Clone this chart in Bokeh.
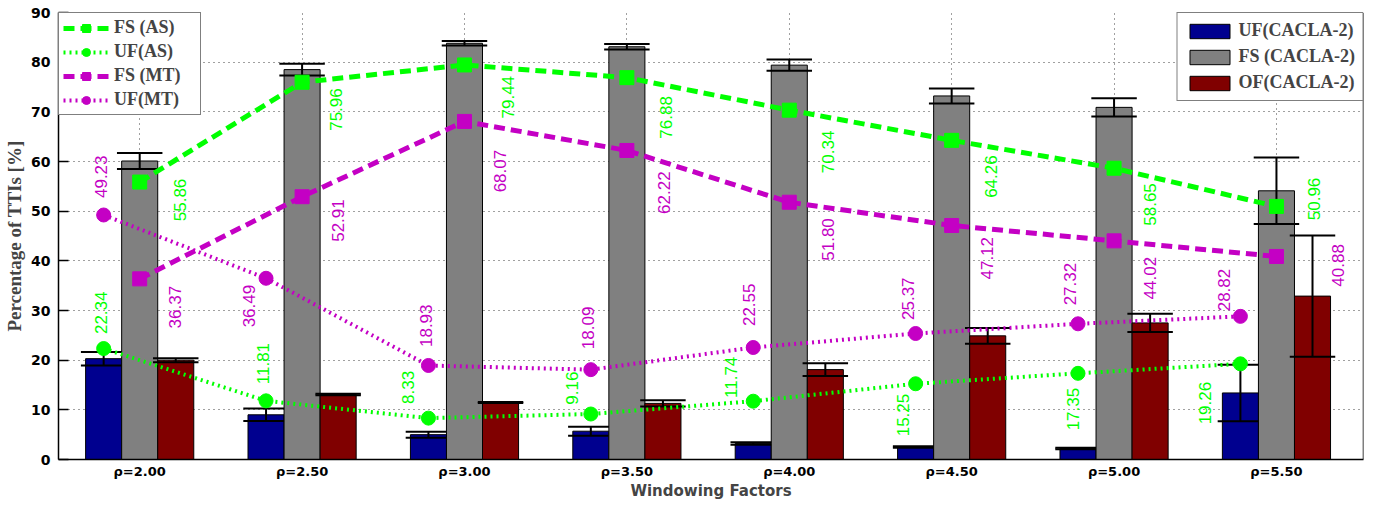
import numpy as np
from bokeh.plotting import figure
from bokeh.models import ColumnDataSource, FixedTicker, Legend, LegendItem, Span, Range1d
from bokeh.core.properties import value
from bokeh.embed import file_html
from bokeh.resources import INLINE

# ---------------- data ----------------
factors = ["ρ=2.00", "ρ=2.50", "ρ=3.00", "ρ=3.50", "ρ=4.00", "ρ=4.50", "ρ=5.00", "ρ=5.50"]

uf_cacla = [20.3, 9.0, 5.0, 5.7, 3.2, 2.5, 2.2, 13.4]
uf_cacla_err = [1.35, 1.25, 0.6, 0.9, 0.25, 0.15, 0.15, 5.7]
fs_cacla = [60.1, 78.5, 83.8, 83.1, 79.4, 73.2, 70.9, 54.1]
fs_cacla_err = [1.6, 1.2, 0.45, 0.55, 1.15, 1.5, 1.85, 6.7]
of_cacla = [20.0, 13.1, 11.5, 11.3, 18.1, 24.9, 27.5, 32.9]
of_cacla_err = [0.4, 0.15, 0.1, 0.65, 1.3, 1.6, 1.85, 12.2]

fs_as = [55.86, 75.96, 79.44, 76.88, 70.34, 64.26, 58.65, 50.96]
uf_as = [22.34, 11.81, 8.33, 9.16, 11.74, 15.25, 17.35, 19.26]
fs_mt = [36.37, 52.91, 68.07, 62.22, 51.80, 47.12, 44.02, 40.88]
uf_mt = [49.23, 36.49, 18.93, 18.09, 22.55, 25.37, 27.32, 28.82]

# value-label placement (offsets from group centre / value, data units)
uf_as_lbl_dx = [-0.24, -0.24, -0.35, -0.34, -0.36, -0.30, -0.25, -0.44]
uf_as_lbl_dy = [7.2, 7.5, 6.2, 5.2, 4.8, -6.3, -7.2, -7.9]
fs_as_lbl_dx = [0.25, 0.21, 0.27, 0.24, 0.24, 0.24, 0.22, 0.23]
fs_as_lbl_dy = [-3.6, -5.5, -6.5, -8.0, -8.4, -7.3, -7.3, 1.5]
fs_mt_lbl_dx = [0.22, 0.22, 0.22, 0.23, 0.24, 0.22, 0.22, 0.38]
fs_mt_lbl_dy = [-5.7, -4.8, -10.0, -8.5, -7.5, -6.6, -7.5, -1.8]
uf_mt_lbl_dx = [-0.24, -0.33, -0.24, -0.24, -0.25, -0.27, -0.27, -0.32]
uf_mt_lbl_dy = [7.7, -5.6, 8.0, 8.4, 8.6, 7.0, 8.0, 5.3]

# ---------------- styles ----------------
BLUE = "#00008f"
GRAY = "#808080"
RED = "#800000"
GREEN = "#00ff00"
MAGENTA = "#c400c4"
BW = 0.222   # bar width
CAP = 0.14   # half cap width

xc = np.arange(1, len(factors) + 1, dtype=float)

p = figure(width=1366, height=502,
           x_range=Range1d(0.5, 8.536), y_range=Range1d(0, 90),
           output_backend="svg", toolbar_location=None,
           min_border_left=58, min_border_right=3,
           min_border_top=12, min_border_bottom=39)
p.outline_line_color = None

# axes
p.xaxis.ticker = FixedTicker(ticks=list(xc))
p.xaxis.major_label_overrides = {float(i): f for i, f in zip(xc, factors)}
p.xaxis.major_label_overrides.update({int(i): f for i, f in zip(xc, factors)})
p.yaxis.ticker = FixedTicker(ticks=list(range(0, 91, 10)))
for ax in (p.xaxis[0], p.yaxis[0]):
    ax.axis_line_color = "black"
    ax.axis_line_width = 1.5
    ax.minor_tick_line_color = None
    ax.major_label_text_font = "DejaVu Sans"
    ax.major_label_text_font_style = "bold"
    ax.major_label_text_color = "black"
p.yaxis.major_tick_in = 10
p.yaxis.major_tick_out = 0
p.yaxis.major_tick_line_width = 1.5
p.xaxis.major_tick_in = 0
p.xaxis.major_tick_out = 0
p.yaxis.major_label_text_font_size = "14px"
p.xaxis.major_label_text_font_size = "13px"
p.yaxis.major_label_standoff = 8
p.xaxis.major_label_standoff = 4
p.xaxis.axis_label = "Windowing Factors"
p.xaxis.axis_label_text_font = "DejaVu Sans"
p.xaxis.axis_label_text_font_style = "bold"
p.xaxis.axis_label_text_font_size = "15px"
p.xaxis.axis_label_standoff = 0
p.yaxis.axis_label = "Percentage of TTIs [%]"
p.yaxis.axis_label_text_font = "Liberation Serif"
p.yaxis.axis_label_text_font_style = "bold"
p.yaxis.axis_label_text_font_size = "19px"
p.yaxis.axis_label_standoff = 3

p.grid.grid_line_color = "black"
p.grid.grid_line_alpha = 0.75
p.grid.grid_line_dash = "1 4"
p.grid.grid_line_width = 1

p.add_layout(Span(location=8.536, dimension="height", line_color="black", line_width=1.5))

# bars
bar_renderers = []
for off, vals, errs, col in ((-BW, uf_cacla, uf_cacla_err, BLUE),
                             (0.0, fs_cacla, fs_cacla_err, GRAY),
                             (BW, of_cacla, of_cacla_err, RED)):
    xs = xc + off
    v = np.array(vals)
    e = np.array(errs)
    src = ColumnDataSource(dict(x=xs, top=v))
    r = p.vbar(x="x", top="top", bottom=0, width=BW, source=src,
               fill_color=col, line_color="black", line_width=1)
    bar_renderers.append(r)
    p.segment(x0=xs, y0=v - e, x1=xs, y1=v + e, line_color="black", line_width=2)
    p.segment(x0=xs - CAP, y0=v + e, x1=xs + CAP, y1=v + e, line_color="black", line_width=2)
    p.segment(x0=xs - CAP, y0=v - e, x1=xs + CAP, y1=v - e, line_color="black", line_width=2)

# lines
line_items = []
specs = [
    ("FS (AS)", fs_as, 0.0, GREEN, "dashed", "square", fs_as_lbl_dx, fs_as_lbl_dy),
    ("UF(AS)", uf_as, -BW, GREEN, "dotted", "circle", uf_as_lbl_dx, uf_as_lbl_dy),
    ("FS (MT)", fs_mt, 0.0, MAGENTA, "dashed", "square", fs_mt_lbl_dx, fs_mt_lbl_dy),
    ("UF(MT)", uf_mt, -BW, MAGENTA, "dotted", "circle", uf_mt_lbl_dx, uf_mt_lbl_dy),
]
for name, vals, off, col, style, marker, ldx, ldy in specs:
    xs = xc + off
    src = ColumnDataSource(dict(x=xs, y=vals))
    if style == "dashed":
        lr = p.line("x", "y", source=src, line_color=col, line_width=5, line_dash="11 6")
    else:
        lr = p.line("x", "y", source=src, line_color=col, line_width=4, line_dash="2 4")
    sr = p.scatter("x", "y", source=src, marker=marker, size=14,
                   fill_color=col, line_color=col, line_width=1)
    line_items.append(LegendItem(label=name, renderers=[lr, sr]))

for name, vals, off, col, style, marker, ldx, ldy in specs:
    lsrc = ColumnDataSource(dict(
        x=xc + np.array(ldx),
        y=np.array(vals) + np.array(ldy),
        t=["%.2f" % v for v in vals]))
    p.text("x", "y", text="t", source=lsrc, angle=np.pi / 2,
           text_align="center", text_baseline="middle",
           text_font=value("Liberation Sans"), text_font_size="17px",
           text_color=col)

leg1 = Legend(items=line_items, location="top_left", margin=0, padding=4, spacing=3,
              glyph_width=46, glyph_height=20, label_height=20, label_width=82,
              label_standoff=5,
              label_text_font="Liberation Serif", label_text_font_style="bold",
              label_text_font_size="18px",
              border_line_color="black", border_line_width=1.5,
              background_fill_color="white", background_fill_alpha=1)
leg2 = Legend(items=[LegendItem(label="UF(CACLA-2)", renderers=[bar_renderers[0]]),
                     LegendItem(label="FS (CACLA-2)", renderers=[bar_renderers[1]]),
                     LegendItem(label="OF(CACLA-2)", renderers=[bar_renderers[2]])],
              location="top_right", margin=0, padding=7, spacing=5,
              glyph_width=50, glyph_height=18, label_height=18,
              label_standoff=4,
              label_text_font="Liberation Serif", label_text_font_style="bold",
              label_text_font_size="18px",
              border_line_color="black", border_line_width=1.5,
              background_fill_color="white", background_fill_alpha=1)
p.add_layout(leg1)
p.add_layout(leg2)

open("out.html", "w").write(file_html(p, INLINE))
